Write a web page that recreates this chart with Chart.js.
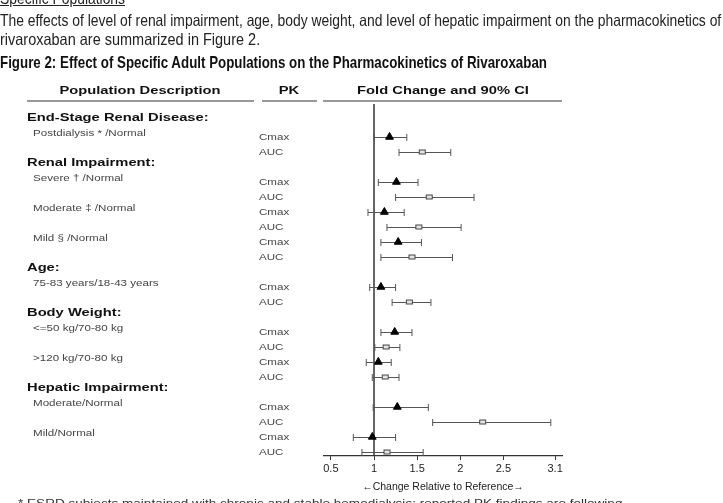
<!DOCTYPE html>
<html>
<head>
<meta charset="utf-8">
<script src="https://cdn.jsdelivr.net/npm/chart.js@4.4.1/dist/chart.umd.min.js"></script>
<style>
  html, body { margin: 0; padding: 0; background: #fff; width: 723px; height: 503px; overflow: hidden; }
  #wrap { position: relative; width: 723px; height: 503px; }
  canvas { position: absolute; left: 0; top: 0; }
  .line { position: absolute; left: 0; font-family: "Liberation Sans", Arial, sans-serif; color: #222; white-space: nowrap; transform-origin: 0 0; display: inline-block; }
  #sec { top: -11px; font-size: 16.5px; line-height: 19px; text-decoration: underline; }
  #p1 { top: 11px; font-size: 16.5px; line-height: 19px; }
  #p2 { top: 30px; font-size: 16.5px; line-height: 19px; }
  #fig { top: 53px; font-size: 16.5px; line-height: 19px; font-weight: bold; color: #111; }
  #note { left: 18px; top: 496px; font-size: 11px; line-height: 14px; color: #333; }
</style>
</head>
<body>
<div id="wrap">
  <canvas id="c" width="723" height="503"></canvas>
  <span class="line" id="sec" data-scale="p1">Specific Populations</span>
  <span class="line" id="p1" data-fit="721">The effects of level of renal impairment, age, body weight, and level of hepatic impairment on the pharmacokinetics of</span>
  <span class="line" id="p2" data-fit="260">rivaroxaban are summarized in Figure 2.</span>
  <span class="line" id="fig" data-fit="547">Figure 2: Effect of Specific Adult Populations on the Pharmacokinetics of Rivaroxaban</span>
  <span class="line" id="note" data-fit="604">* ESRD subjects maintained with chronic and stable hemodialysis; reported PK findings are following</span>
</div>
<script>
// Condensed text lines: squeeze each line to its set width
(function condense() {
  const factors = {};
  document.querySelectorAll('[data-fit]').forEach(el => {
    const f = Number(el.dataset.fit) / el.offsetWidth;
    factors[el.id] = f;
    el.style.transform = 'scaleX(' + f + ')';
  });
  document.querySelectorAll('[data-scale]').forEach(el => {
    el.style.transform = 'scaleX(' + factors[el.dataset.scale] + ')';
  });
})();

// Population groups and the comparisons inside each
const groups = ['End-Stage Renal Disease:', 'Renal Impairment:', 'Age:', 'Body Weight:', 'Hepatic Impairment:'];
const populations = ['Postdialysis * /Normal', 'Severe \u2020 /Normal', 'Moderate \u2021 /Normal', 'Mild \u00a7 /Normal',
  '75-83 years/18-43 years', '<=50 kg/70-80 kg', '>120 kg/70-80 kg', 'Moderate/Normal', 'Mild/Normal'];
const groupOf = [0, 1, 1, 1, 2, 3, 3, 4, 4];
const pkParams = ['Cmax', 'AUC'];

// Fold change (ratio) and 90% CI, per population
const cmaxRatio = [1.18, 1.26, 1.12, 1.28, 1.08, 1.24, 1.05, 1.27, 0.98];
const cmaxLow   = [1.00, 1.05, 0.93, 1.08, 0.95, 1.08, 0.91, 0.99, 0.76];
const cmaxHigh  = [1.38, 1.51, 1.35, 1.55, 1.25, 1.44, 1.20, 1.63, 1.25];
const aucRatio  = [1.56, 1.64, 1.52, 1.44, 1.41, 1.14, 1.13, 2.26, 1.15];
const aucLow    = [1.29, 1.25, 1.15, 1.08, 1.21, 1.01, 0.98, 1.68, 0.86];
const aucHigh   = [1.89, 2.16, 2.01, 1.91, 1.66, 1.30, 1.29, 3.05, 1.57];

const xTicks = [0.5, 1, 1.5, 2, 2.5, 3.1];
const referenceValue = 1;

// Row layout: one row per group header, then a Cmax and an AUC row per population
const headerRow = [];
const cmaxRow = [];
const aucRow = [];
(function buildRows() {
  let r = -1, lastGroup = -1;
  populations.forEach((p, i) => {
    if (groupOf[i] !== lastGroup) { headerRow.push(r); r++; lastGroup = groupOf[i]; }
    cmaxRow.push(r); aucRow.push(r + 1); r += 2;
  });
})();

// Open rectangle used as the AUC marker
const aucMarker = (function () {
  const cv = document.createElement('canvas');
  cv.width = 9; cv.height = 7;
  const g = cv.getContext('2d');
  g.fillStyle = '#e4e4e4';
  g.fillRect(1, 1, 7, 5);
  g.strokeStyle = '#444';
  g.lineWidth = 1;
  g.strokeRect(1.5, 1.5, 6, 4);
  return cv;
})();

function stretchText(ctx, text, x, y, font, color, sx, align) {
  ctx.save();
  ctx.font = font;
  ctx.fillStyle = color;
  ctx.textBaseline = 'middle';
  const w = ctx.measureText(text).width * sx;
  let left = x;
  if (align === 'center') left = x - w / 2;
  ctx.translate(left, y);
  ctx.scale(sx, 1);
  ctx.textAlign = 'left';
  ctx.fillText(text, 0, 0);
  ctx.restore();
}

const forestPlugin = {
  id: 'forest',
  beforeDatasetsDraw(chart) {
    const { ctx, chartArea, scales: { x, y } } = chart;
    // reference line at fold change 1
    const rx = x.getPixelForValue(referenceValue);
    ctx.save();
    ctx.strokeStyle = '#333';
    ctx.lineWidth = 1.5;
    ctx.beginPath();
    ctx.moveTo(rx, chartArea.top);
    ctx.lineTo(rx, chartArea.bottom);
    ctx.stroke();

    // confidence interval whiskers
    ctx.strokeStyle = '#555';
    ctx.lineWidth = 1;
    const drawCI = (lo, hi, row) => {
      const py = Math.round(y.getPixelForValue(row)) + 0.5;
      const x0 = x.getPixelForValue(lo), x1 = x.getPixelForValue(hi);
      ctx.beginPath();
      ctx.moveTo(x0, py); ctx.lineTo(x1, py);
      ctx.moveTo(x0, py - 3.5); ctx.lineTo(x0, py + 3.5);
      ctx.moveTo(x1, py - 3.5); ctx.lineTo(x1, py + 3.5);
      ctx.stroke();
    };
    populations.forEach((p, i) => {
      drawCI(cmaxLow[i], cmaxHigh[i], cmaxRow[i]);
      drawCI(aucLow[i], aucHigh[i], aucRow[i]);
    });
    ctx.restore();
  },
  afterDraw(chart) {
    const { ctx, chartArea, scales: { y } } = chart;
    const headFont = 'bold 11.5px "Liberation Sans", Arial, sans-serif';
    const smallFont = '9.5px "Liberation Sans", Arial, sans-serif';

    // column headers and their rules
    const headY = chartArea.top - 13;
    stretchText(ctx, 'Population Description', 140, headY, headFont, '#111', 1.28, 'center');
    stretchText(ctx, 'PK', 289, headY, headFont, '#111', 1.28, 'center');
    stretchText(ctx, 'Fold Change and 90% CI', (chartArea.left + chartArea.right) / 2, headY, headFont, '#111', 1.28, 'center');
    ctx.save();
    ctx.strokeStyle = '#777';
    ctx.lineWidth = 1.5;
    ctx.beginPath();
    const ruleY = chartArea.top - 3;
    ctx.moveTo(27, ruleY); ctx.lineTo(254, ruleY);
    ctx.moveTo(262, ruleY); ctx.lineTo(317, ruleY);
    ctx.moveTo(chartArea.left - 1, ruleY); ctx.lineTo(chartArea.right, ruleY);
    ctx.stroke();
    ctx.restore();

    // group headings
    groups.forEach((g, k) => {
      stretchText(ctx, g, 27, y.getPixelForValue(headerRow[k]) - 4.5, headFont, '#111', 1.28, 'left');
    });
    // population labels and PK parameter labels
    populations.forEach((p, i) => {
      stretchText(ctx, p, 33, y.getPixelForValue(cmaxRow[i]) - 3.5, smallFont, '#444', 1.22, 'left');
      stretchText(ctx, pkParams[0], 259, y.getPixelForValue(cmaxRow[i]) + 0.5, smallFont, '#444', 1.22, 'left');
      stretchText(ctx, pkParams[1], 259, y.getPixelForValue(aucRow[i]) + 0.5, smallFont, '#444', 1.22, 'left');
    });
  }
};

new Chart(document.getElementById('c'), {
  type: 'scatter',
  data: {
    datasets: [
      {
        label: 'Cmax',
        data: cmaxRatio.map((v, i) => ({ x: v, y: cmaxRow[i] })),
        pointStyle: 'triangle',
        radius: 4.5,
        backgroundColor: '#000',
        borderColor: '#000',
        borderWidth: 1
      },
      {
        label: 'AUC',
        data: aucRatio.map((v, i) => ({ x: v, y: aucRow[i] })),
        pointStyle: aucMarker,
        radius: 4
      }
    ]
  },
  options: {
    responsive: false,
    animation: false,
    events: [],
    layout: { padding: { left: 324, right: 161, top: 104, bottom: 10 } },
    plugins: { legend: { display: false }, tooltip: { enabled: false } },
    scales: {
      x: {
        type: 'linear',
        min: 0.42,
        max: 3.18,
        afterBuildTicks: (scale) => { scale.ticks = xTicks.map(v => ({ value: v })); },
        afterFit: (scale) => { scale.height = 37; },
        ticks: {
          autoSkip: false,
          maxRotation: 0,
          padding: 2,
          color: '#222',
          font: { family: '"Liberation Sans", Arial, sans-serif', size: 11 },
          callback: (v) => String(v)
        },
        grid: { drawOnChartArea: false, drawTicks: true, tickLength: 4, color: '#333' },
        border: { display: true, color: '#333', width: 1.2 },
        title: {
          display: true,
          text: '\u2190Change Relative to Reference\u2192',
          color: '#222',
          font: { family: '"Liberation Sans", Arial, sans-serif', size: 10.5 },
          padding: { top: 4, bottom: 0 }
        }
      },
      y: {
        type: 'linear',
        reverse: true,
        min: -2.2,
        max: 21.27,
        display: false
      }
    }
  },
  plugins: [forestPlugin]
});
</script>
</body>
</html>
